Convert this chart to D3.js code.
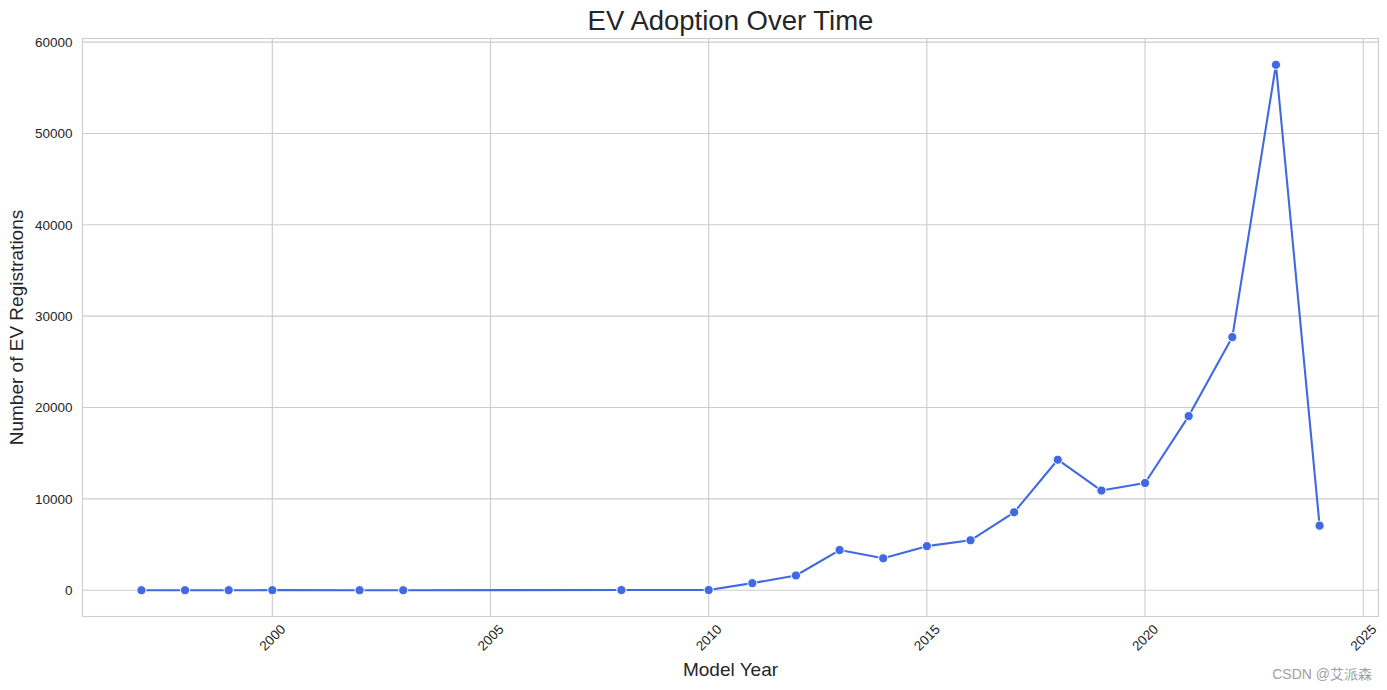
<!DOCTYPE html>
<html>
<head>
<meta charset="utf-8">
<script src="https://cdn.jsdelivr.net/npm/d3@7"></script>
<style>
html,body{margin:0;padding:0;background:#fff;}
svg{display:block;font-family:"Liberation Sans",Arial,sans-serif;}
</style>
</head>
<body>
<svg id="chart" width="1387" height="690"></svg>
<script>
const years = [1997,1998,1999,2000,2002,2003,2008,2010,2011,2012,2013,2014,2015,2016,2017,2018,2019,2020,2021,2022,2023,2024];
const registrations = [1,1,5,7,2,1,19,23,775,1614,4400,3496,4826,5469,8534,14286,10913,11740,19063,27708,57519,7072];
const xTicks = [2000,2005,2010,2015,2020,2025];
const yTicks = [0,10000,20000,30000,40000,50000,60000];

const svg = d3.select("#chart");
const L = 82.5, R = 1378.5, T = 38.5, B = 616.5;

const xr = d3.extent(years), xp = (xr[1]-xr[0])*0.05;
const yr = [d3.min(registrations), d3.max(registrations)], yp = (yr[1]-yr[0])*0.05;
const x = d3.scaleLinear().domain([xr[0]-xp, xr[1]+xp]).range([L, R]);
const y = d3.scaleLinear().domain([yr[0]-yp, yr[1]+yp]).range([B, T]);

const grid = "#cccccc";
// gridlines
svg.append("g").selectAll("line").data(xTicks).join("line")
  .attr("x1", d=>x(d)).attr("x2", d=>x(d)).attr("y1", T).attr("y2", B)
  .attr("stroke", grid).attr("stroke-width", 1.1);
svg.append("g").selectAll("line").data(yTicks).join("line")
  .attr("x1", L).attr("x2", R).attr("y1", d=>y(d)).attr("y2", d=>y(d))
  .attr("stroke", grid).attr("stroke-width", 1.1);
// frame
svg.append("rect").attr("x", L).attr("y", T).attr("width", R-L).attr("height", B-T)
  .attr("fill", "none").attr("stroke", grid).attr("stroke-width", 1.1);

// tick labels
svg.append("g").selectAll("text").data(yTicks).join("text")
  .attr("x", L-10).attr("y", d=>y(d)).attr("dy", "0.35em")
  .attr("text-anchor", "end").attr("font-size", 13.5).attr("fill", "#262626")
  .text(d=>d);
svg.append("g").selectAll("text").data(xTicks).join("text")
  .attr("transform", d=>`translate(${x(d)},${B+21}) rotate(-45)`)
  .attr("text-anchor", "middle").attr("dy", "0.35em")
  .attr("font-size", 13.5).attr("fill", "#262626")
  .text(d=>d);

// line
const pts = years.map((d,i)=>[d, registrations[i]]);
svg.append("path").datum(pts)
  .attr("d", d3.line().x(d=>x(d[0])).y(d=>y(d[1])))
  .attr("fill", "none").attr("stroke", "#4169e1").attr("stroke-width", 2.1)
  .attr("stroke-linejoin", "round");
svg.append("g").selectAll("circle").data(pts).join("circle")
  .attr("cx", d=>x(d[0])).attr("cy", d=>y(d[1])).attr("r", 4.6)
  .attr("fill", "#4169e1").attr("stroke", "#fff").attr("stroke-width", 1);

// titles
svg.append("text").attr("x", (L+R)/2).attr("y", 30).attr("text-anchor", "middle")
  .attr("font-size", 27.5).attr("fill", "#262626").text("EV Adoption Over Time");
svg.append("text").attr("x", (L+R)/2).attr("y", 676).attr("text-anchor", "middle")
  .attr("font-size", 19).attr("fill", "#262626").text("Model Year");
svg.append("text").attr("transform", `translate(23,${(T+B)/2}) rotate(-90)`)
  .attr("text-anchor", "middle").attr("font-size", 19).attr("fill", "#262626")
  .text("Number of EV Registrations");

// watermark
svg.append("text").attr("x", 1372).attr("y", 679).attr("text-anchor", "end")
  .attr("font-size", 14).attr("fill", "#a0a0a0")
  .attr("font-family", "'Liberation Sans','Noto Sans CJK SC',sans-serif")
  .text("CSDN @艾派森");
</script>
</body>
</html>
